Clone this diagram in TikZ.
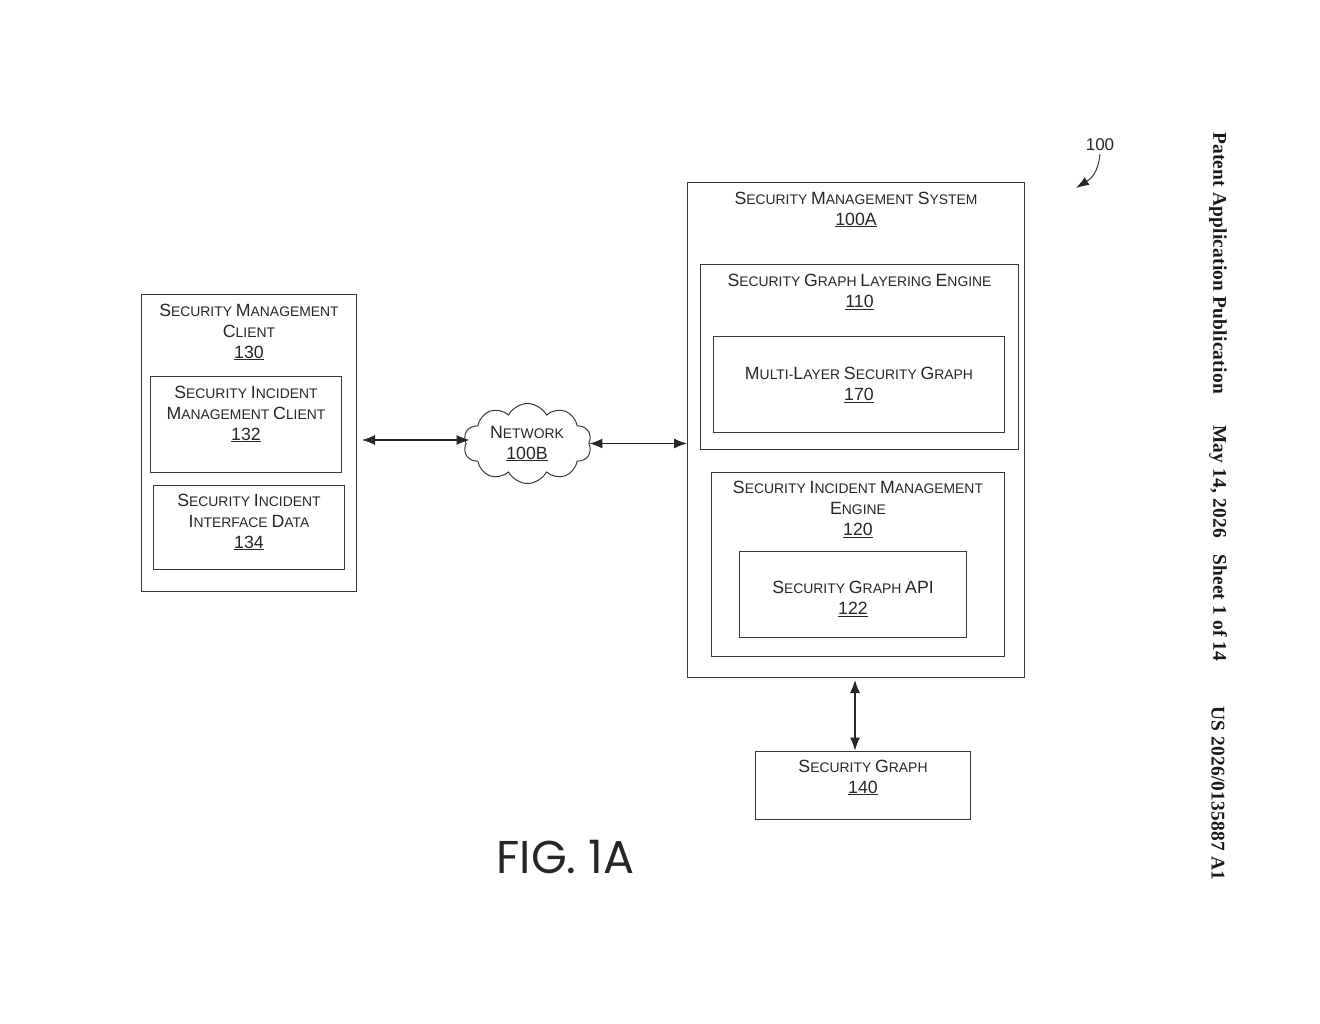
\documentclass[tikz,border=0pt]{standalone}
\usepackage{fontspec}
\setmainfont{Liberation Sans}
\newfontfamily\figfont{Poppins}
\newfontfamily\hdrfont[LetterSpace=1.2]{Liberation Serif}
\usetikzlibrary{arrows.meta,shapes.symbols}
\newcommand{\B}[1]{{\fontsize{17.7}{18}\selectfont #1}}
\tikzset{
  x=1pt,y=-1pt,
  box/.style={draw=black!78,line width=1pt,inner sep=0pt,fill=none},
  lbl/.style={font=\fontsize{13.9}{21}\selectfont,align=center,text=black!85,inner sep=0pt},
  dbl/.style={{Latex[length=13pt,width=10pt]}-{Latex[length=13pt,width=10pt]},line width=1.1pt,draw=black!85},
  hdr/.style={rotate=-90,font=\hdrfont\bfseries\fontsize{19.4}{19.4}\selectfont,inner sep=0pt,text=black!90},
}
\newcommand{\bx}[5]{\node[box,minimum width=#4-#2,minimum height=#5-#3] (#1) at ({(#2+#4)/2},{(#3+#5)/2}) {};}
\begin{document}
\begin{tikzpicture}
\useasboundingbox (0,0) rectangle (1320,1024);
\bx{client}{141.5}{294.5}{356.5}{591}
\bx{imc}{150.5}{376.5}{341.5}{472}
\bx{data}{153.5}{485}{344.5}{569.5}
\bx{sys}{687.5}{182.5}{1024.5}{677.5}
\bx{layer}{700.5}{264.5}{1018}{449.5}
\bx{ml}{713}{337}{1004.5}{432}
\bx{sime}{711}{472}{1004.5}{656.5}
\bx{api}{739}{551.5}{966.5}{637}
\bx{graph}{755}{751}{970.5}{819.5}

\node[lbl] (tclient) at (249,332) {\B{S}ECURITY \B{M}ANAGEMENT\\\B{C}LIENT\\\B{\underline{130}}};
\node[lbl] (timc) at (246,414) {\B{S}ECURITY \B{I}NCIDENT\\\B{M}ANAGEMENT \B{C}LIENT\\\B{\underline{132}}};
\node[lbl] (tdata) at (249,522) {\B{S}ECURITY \B{I}NCIDENT\\\B{I}NTERFACE \B{D}ATA\\\B{\underline{134}}};
\node[lbl] (tsys) at (856,209.5) {\B{S}ECURITY \B{M}ANAGEMENT \B{S}YSTEM\\\B{\underline{100A}}};
\node[lbl] (tlayer) at (859.5,292) {\B{S}ECURITY \B{G}RAPH \B{L}AYERING \B{E}NGINE\\\B{\underline{110}}};
\node[lbl] (tml) at (859,385) {\B{M}ULTI-\B{L}AYER \B{S}ECURITY \B{G}RAPH\\\B{\underline{170}}};
\node[lbl] (tsime) at (858,509.5) {\B{S}ECURITY \B{I}NCIDENT \B{M}ANAGEMENT\\\B{E}NGINE\\\B{\underline{120}}};
\node[lbl] (tapi) at (853,599) {\B{S}ECURITY \B{G}RAPH \B{API}\\\B{\underline{122}}};
\node[lbl] (tgraph) at (863,777.5) {\B{S}ECURITY \B{G}RAPH\\\B{\underline{140}}};

\node[cloud,cloud puffs=10,cloud puff arc=125,aspect=1.6,draw=black!78,line width=1pt,minimum width=128pt,minimum height=80pt,inner sep=0pt] (net) at (527.5,443.5) {};
\node[lbl] (tnet) at (527,443.5) {\B{N}ETWORK\\\B{\underline{100B}}};

\coordinate (netin) at ([xshift=4pt,yshift=3.5pt]net.west);
\draw[dbl] ([xshift=5pt]client.east |- netin) -- (netin);
\draw[dbl] (net.east) -- (sys.west |- net.east);
\draw[dbl] ([yshift=-2pt,xshift=-1pt]sys.south) -- ([xshift=-1pt]sys.south |- graph.north);

\node[font=\fontsize{17}{17}\selectfont,inner sep=0pt,text=black!85] (n100) at (1100,145) {100};
\coordinate (n100tip) at (1076,188);
\draw[-{Latex[length=13pt,width=9pt]},line width=0.9pt,draw=black!85] ([yshift=-3pt]n100.south) .. controls (1098,172) and (1092,178) .. (n100tip);

\node[font=\figfont\fontsize{46}{46}\selectfont,inner sep=0pt,text=black!85] (fig) at (565.5,857) {FIG. 1A};

\node[hdr,anchor=west] (h1) at (1218,132) {Patent Application Publication};
\node[hdr,anchor=west] (h2) at (1218,425) {May 14, 2026\hspace{0.85em}Sheet 1 of 14};
\node[hdr,anchor=west] (h3) at (1218,706) {US 2026/0135887 A1};
\end{tikzpicture}
\end{document}
